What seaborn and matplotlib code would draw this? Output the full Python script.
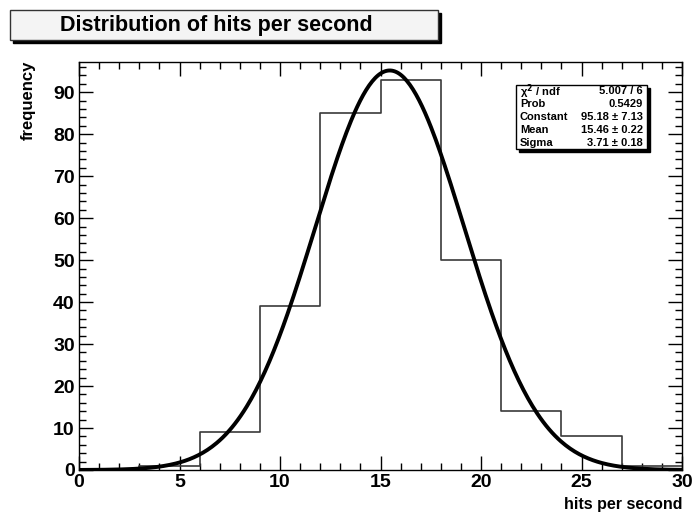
import numpy as np
import pandas as pd
import seaborn as sns
import matplotlib.pyplot as plt
from matplotlib.patches import Rectangle
from matplotlib.ticker import MultipleLocator

# histogram (bins of width 3)
bin_edges = [0, 3, 6, 9, 12, 15, 18, 21, 24, 27, 30]
counts = [0, 1, 9, 39, 85, 93, 50, 14, 8, 1]

# gaussian fit values from the stats box
fit_const = 95.18
fit_mean = 15.46
fit_sigma = 3.71

stat_names = ["χ$^2$ / ndf", "Prob", "Constant", "Mean", "Sigma"]
stat_values = ["5.007 / 6", "0.5429", "95.18 ± 7.13", "15.46 ± 0.22", "3.71 ± 0.18"]

sns.set_style("ticks")
plt.rcParams['font.family'] = ['Liberation Sans', 'DejaVu Sans']
plt.rcParams['font.weight'] = 'bold'
plt.rcParams['text.color'] = 'black'
plt.rcParams['xtick.color'] = 'black'
plt.rcParams['ytick.color'] = 'black'

fig = plt.figure(figsize=(6.92, 5.14), dpi=100)
ax = fig.add_axes([79/692, 1 - 470/514, (682 - 79)/692, (470 - 62)/514])

centers = [(a + b) / 2 for a, b in zip(bin_edges[:-1], bin_edges[1:])]
hist_df = pd.DataFrame({"x": centers, "w": counts})
sns.histplot(data=hist_df, x="x", weights="w", bins=bin_edges, element="step",
             fill=False, color="#3a3a3a", linewidth=1.2, ax=ax)

xs = np.linspace(0, 30, 400)
fit_df = pd.DataFrame({"x": xs, "y": fit_const * np.exp(-0.5 * ((xs - fit_mean) / fit_sigma) ** 2)})
sns.lineplot(data=fit_df, x="x", y="y", color="black", linewidth=2.8, ax=ax)

ax.set_xlim(0, 30)
ax.set_ylim(0, 97.2)
ax.xaxis.set_major_locator(MultipleLocator(5))
ax.xaxis.set_minor_locator(MultipleLocator(1))
ax.yaxis.set_major_locator(MultipleLocator(10))
ax.yaxis.set_minor_locator(MultipleLocator(2))
ax.tick_params(which="both", direction="in", top=True, right=True, color="black",
               labelsize=14, width=1, labelcolor="black")
ax.tick_params(which="major", length=10, pad=3)
ax.tick_params(which="minor", length=5)
for lab in ax.get_xticklabels() + ax.get_yticklabels():
    lab.set_fontweight("bold")
for s in ax.spines.values():
    s.set_linewidth(1)
    s.set_color("black")
ax.set_xlabel("")
ax.set_ylabel("")

fig.text(683/692, 1 - 505/514, "hits per second", ha="right", va="center",
         fontsize=11.5, fontweight="bold")
fig.text(28/692, 1 - 61/514, "frequency", ha="center", va="top", rotation=90,
         fontsize=12, fontweight="bold")

# title box with shadow
tf = fig.transFigure
fig.patches.append(Rectangle((13/692, 1 - 43/514), 428/692, 30/514, transform=tf,
                             facecolor="black", edgecolor="black", zorder=1))
fig.patches.append(Rectangle((10/692, 1 - 40/514), 428/692, 30/514, transform=tf,
                             facecolor="#f4f4f4", edgecolor="#333333", linewidth=1, zorder=2))
fig.text(216/692, 1 - 25/514, "Distribution of hits per second", ha="center", va="center",
         fontsize=15.5, fontweight="bold", zorder=3)

# stats box with shadow
bx0, bx1, by0, by1 = 516, 647, 85, 149
fig.patches.append(Rectangle(((bx0 + 3)/692, 1 - (by1 + 3)/514), (bx1 - bx0)/692, (by1 - by0)/514,
                             transform=tf, facecolor="black", edgecolor="black", zorder=4))
fig.patches.append(Rectangle((bx0/692, 1 - by1/514), (bx1 - bx0)/692, (by1 - by0)/514,
                             transform=tf, facecolor="white", edgecolor="black", linewidth=1, zorder=5))
row_h = (by1 - by0) / len(stat_names)
for i, (n, v) in enumerate(zip(stat_names, stat_values)):
    yy = 1 - (by0 + row_h * (i + 0.5)) / 514
    fig.text((bx0 + 4)/692, yy, n, ha="left", va="center", fontsize=8, fontweight="bold", zorder=6)
    fig.text((bx1 - 4)/692, yy, v, ha="right", va="center", fontsize=8, fontweight="bold", zorder=6)

fig.savefig("out.png", dpi=100)
